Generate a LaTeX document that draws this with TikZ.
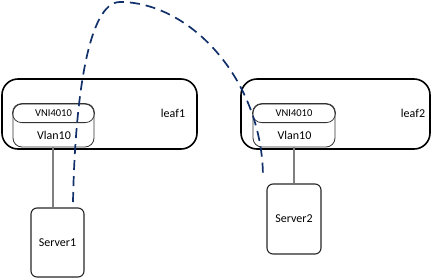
\documentclass[tikz,border=0pt]{standalone}
\usepackage{fontspec}
\setmainfont{Carlito}
\definecolor{tunnel}{HTML}{12306A}
\definecolor{wire}{HTML}{7F7F7F}
\begin{document}
\begin{tikzpicture}[x=1pt,y=-1pt,
  leafbox/.style={draw=black,line width=1.6pt,rounded corners=16pt,inner sep=0pt},
  cylbox/.style={draw=black!80,line width=0.8pt,rounded corners=9pt,inner sep=0pt,minimum width=81pt,minimum height=43pt},
  serverbox/.style={draw=black!85,line width=1.1pt,rounded corners=6pt,inner sep=0pt,minimum width=53pt,minimum height=69pt,font=\fontsize{12}{14}\selectfont},
  lbl/.style={inner sep=0pt,font=\fontsize{12}{14}\selectfont},
  smalllbl/.style={inner sep=0pt,font=\fontsize{10.5}{12}\selectfont},
  wireline/.style={draw=wire,line width=1.1pt},
  tunnelline/.style={draw=tunnel,line width=1.7pt,dash pattern=on 10pt off 6pt}]
\useasboundingbox (0,0) rectangle (433,279);
% leaf boxes
\node[leafbox,minimum width=195pt,minimum height=70pt] (leafone) at (99.5,114) {};
\node[leafbox,minimum width=189pt,minimum height=70pt] (leaftwo) at (335.5,114) {};
\node[lbl] (leafonelbl) at (173,113) {leaf1};
\node[lbl] (leaftwolbl) at (413,113) {leaf2};
% cylinders
\node[cylbox] (cylone) at (53.5,125.5) {};
\draw[draw=black!80,line width=0.8pt,rounded corners=9pt] (cylone.north west) rectangle ([yshift=-19pt]cylone.north east);
\node[smalllbl] (vnione) at (53.5,113.5) {VNI4010};
\node[lbl] (vlanone) at (54,135) {Vlan10};
\node[cylbox,minimum width=82pt] (cyltwo) at (294,125.5) {};
\draw[draw=black!80,line width=0.8pt,rounded corners=9pt] (cyltwo.north west) rectangle ([yshift=-19pt]cyltwo.north east);
\node[smalllbl] (vnitwo) at (294,113.5) {VNI4010};
\node[lbl] (vlantwo) at (294.5,135) {Vlan10};
% servers
\node[serverbox] (serverone) at (57.5,242.5) {Server1};
\node[serverbox,minimum width=54pt,minimum height=70pt] (servertwo) at (294,219) {Server2};
% wires
\draw[wireline] ([xshift=-0.5pt]cylone.south) -- ([xshift=-0.5pt]cylone.south |- serverone.north);
\draw[wireline] (cyltwo.south) -- (cyltwo.south |- servertwo.north);
% tunnel
\coordinate (tstart) at (73,202);
\coordinate (tpeak) at (120,2);
\coordinate (tend) at (263,178);
\draw[tunnelline] (tstart) .. controls (75,100) and (88,2) .. (tpeak)
  .. controls (190,2) and (263,80) .. (tend);
\end{tikzpicture}
\end{document}
